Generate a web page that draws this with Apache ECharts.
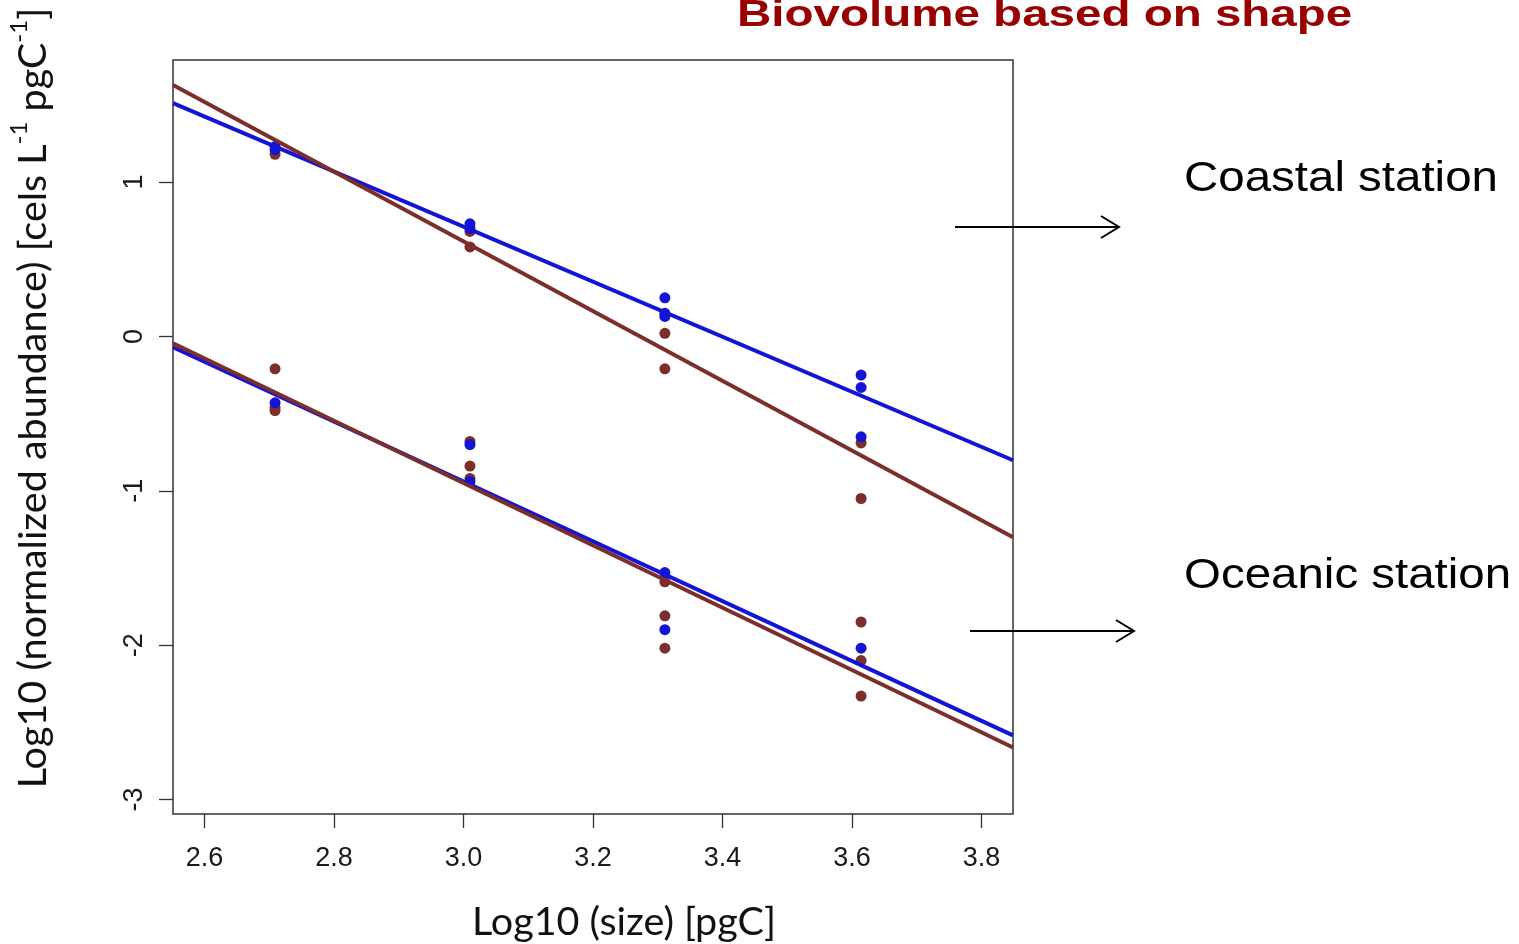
<!DOCTYPE html>
<html>
<head>
<meta charset="utf-8">
<script src="https://cdn.jsdelivr.net/npm/echarts@6/dist/echarts.min.js"></script>
<style>
  html, body { margin: 0; padding: 0; background: #fff; }
  #chart { width: 1519px; height: 944px; }
</style>
</head>
<body>
<div id="chart"></div>
<script>
// tick positions
const xTicks = [2.6, 2.8, 3.0, 3.2, 3.4, 3.6, 3.8];
const yTicks = [-3, -2, -1, 0, 1];

// log10 size classes
const coastalBlueX = [2.709, 2.709, 3.010, 3.010, 3.311, 3.311, 3.311, 3.614, 3.614, 3.614];
const coastalBlueY = [1.23, 1.21, 0.73, 0.70, 0.25, 0.15, 0.13, -0.25, -0.33, -0.65];
const coastalBrownX = [2.709, 3.010, 3.010, 3.311, 3.311, 3.614, 3.614];
const coastalBrownY = [1.18, 0.68, 0.58, 0.02, -0.21, -0.69, -1.05];
const oceanicBlueX = [2.709, 3.010, 3.010, 3.311, 3.311, 3.614];
const oceanicBlueY = [-0.43, -0.70, -0.94, -1.53, -1.90, -2.02];
const oceanicBrownX = [2.709, 2.709, 2.709, 3.010, 3.010, 3.010, 3.311, 3.311, 3.311, 3.614, 3.614, 3.614];
const oceanicBrownY = [-0.21, -0.46, -0.48, -0.68, -0.84, -0.92, -1.59, -1.81, -2.02, -1.85, -2.10, -2.33];

// fitted lines, read at the plot edges
const fitX = [2.5514, 3.8486];
const coastalBlueFit = [1.512, -0.802];
const coastalBrownFit = [1.629, -1.301];
const oceanicBlueFit = [-0.070, -2.585];
const oceanicBrownFit = [-0.044, -2.663];

const blue = '#1414d6';
const brown = '#7c2e2a';

function pairs(xs, ys) {
  return xs.map((x, i) => [x, ys[i]]);
}

function dots(name, xs, ys, color) {
  return {
    name: name,
    type: 'scatter',
    data: pairs(xs, ys),
    symbolSize: 11,
    itemStyle: { color: color, opacity: 1 },
    silent: true
  };
}

function fit(name, ys, color) {
  return {
    name: name,
    type: 'line',
    data: pairs(fitX, ys),
    showSymbol: false,
    lineStyle: { color: color, width: 4 },
    silent: true
  };
}

const chart = echarts.init(document.getElementById('chart'));

const option = {
  animation: false,
  backgroundColor: '#fff',
  grid: {
    left: 173, right: 506, top: 60, bottom: 130,
    show: true, borderColor: '#333', borderWidth: 1.5
  },
  xAxis: {
    type: 'value',
    min: 2.5514, max: 3.8486,
    axisLine: { show: false, onZero: false },
    splitLine: { show: false },
    axisTick: { show: true, customValues: xTicks, length: 14, lineStyle: { color: '#333', width: 1.3 } },
    axisLabel: {
      customValues: xTicks, margin: 31,
      formatter: v => v.toFixed(1),
      fontFamily: 'Liberation Sans', fontSize: 27, color: '#1a1a1a'
    }
  },
  yAxis: {
    type: 'value',
    min: -3.094, max: 1.791,
    axisLine: { show: false, onZero: false },
    splitLine: { show: false },
    axisTick: { show: true, customValues: yTicks, length: 14, lineStyle: { color: '#333', width: 1.3 } },
    axisLabel: {
      customValues: yTicks, margin: 25, rotate: 90,
      formatter: v => String(v),
      fontFamily: 'Liberation Sans', fontSize: 27, color: '#1a1a1a'
    }
  },
  series: [
    dots('coastal brown', coastalBrownX, coastalBrownY, brown),
    dots('oceanic brown', oceanicBrownX, oceanicBrownY, brown),
    dots('coastal blue', coastalBlueX, coastalBlueY, blue),
    dots('oceanic blue', oceanicBlueX, oceanicBlueY, blue),
    fit('coastal blue fit', coastalBlueFit, blue),
    fit('coastal brown fit', coastalBrownFit, brown),
    fit('oceanic blue fit', oceanicBlueFit, blue),
    fit('oceanic brown fit', oceanicBrownFit, brown)
  ],
  graphic: [
    {
      type: 'text', x: 737, y: 16, scaleX: 1.32,
      style: {
        text: 'Biovolume based on shape',
        font: 'bold 36px "Liberation Sans"',
        fill: '#990000', align: 'left', verticalAlign: 'middle'
      }
    },
    {
      type: 'text', x: 1184, y: 179, scaleX: 1.13,
      style: {
        text: 'Coastal station', font: '42px "Liberation Sans"',
        fill: '#000', align: 'left', verticalAlign: 'middle'
      }
    },
    {
      type: 'text', x: 1184, y: 576, scaleX: 1.13,
      style: {
        text: 'Oceanic station', font: '42px "Liberation Sans"',
        fill: '#000', align: 'left', verticalAlign: 'middle'
      }
    },
    // arrows
    { type: 'line', shape: { x1: 955, y1: 227, x2: 1119, y2: 227 }, style: { stroke: '#000', lineWidth: 2 } },
    { type: 'polyline', shape: { points: [[1101, 216], [1119, 227], [1101, 238]] }, style: { stroke: '#000', lineWidth: 2, fill: null } },
    { type: 'line', shape: { x1: 970, y1: 631, x2: 1134, y2: 631 }, style: { stroke: '#000', lineWidth: 2 } },
    { type: 'polyline', shape: { points: [[1116, 620], [1134, 631], [1116, 642]] }, style: { stroke: '#000', lineWidth: 2, fill: null } },
    // axis titles
    {
      type: 'text', x: 624, y: 922,
      style: {
        text: 'Log10 (size) [pgC]', font: '39.5px Lato',
        fill: '#111', align: 'center', verticalAlign: 'middle'
      }
    },
    {
      type: 'text', x: 30, y: 398, rotation: Math.PI / 2,
      style: {
        text: '{b|Log10 (normalized abundance) [cels L}{s|-1}{b| pgC}{s|-1}{b|]}',
        fill: '#111', align: 'center', verticalAlign: 'middle',
        rich: {
          b: { fontFamily: 'Lato', fontSize: 39.5, lineHeight: 46, verticalAlign: 'bottom', fill: '#111' },
          s: { fontFamily: 'Lato', fontSize: 24, lineHeight: 24, verticalAlign: 'top', fill: '#111' }
        }
      }
    }
  ]
};

chart.setOption(option);
window.addEventListener('resize', function () {
  chart.resize();
});
</script>
</body>
</html>
